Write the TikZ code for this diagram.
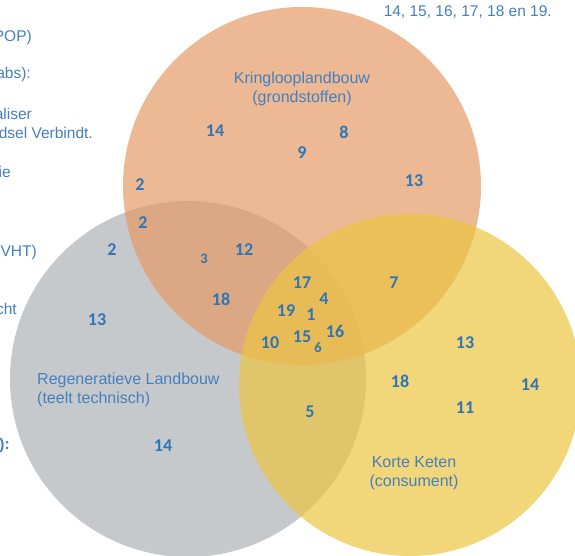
\documentclass[tikz,border=0pt]{standalone}
\usepackage{fontspec}
\setmainfont{Liberation Sans}
\newfontfamily\calfont{Carlito}
\definecolor{txtblue}{RGB}{68,128,190}
\definecolor{numblue}{RGB}{46,117,182}
\definecolor{grondorange}{RGB}{229,154,102}
\definecolor{teeltgray}{RGB}{174,178,182}
\definecolor{ketenyellow}{RGB}{236,196,65}
\tikzset{
  nr/.style={font=\calfont\bfseries\fontsize{18}{18}\selectfont, text=numblue, inner sep=0pt},
  klein/.style={font=\calfont\bfseries\fontsize{14.5}{14.5}\selectfont},
  lbl/.style={font=\fontsize{16}{18.5}\selectfont, text=txtblue, align=center, inner sep=0pt},
  cut/.style={font=\fontsize{15.5}{18}\selectfont, text=txtblue, anchor=east, inner sep=0pt},
  set/.style={fill opacity=0.7}
}

\begin{document}
\begin{tikzpicture}[x=1pt,y=-1pt]
  \useasboundingbox (0,0) rectangle (575,556);
  % the three sets
  \fill[teeltgray,set] (188,379) circle(178pt);
  \fill[grondorange,set] (302,186) circle(179pt);
  \fill[ketenyellow,set] (410,385) circle(171pt);
  % set names
  \draw (302,89) node[lbl] (kring) {Kringlooplandbouw\\(grondstoffen)};
  \draw (37,390) node[lbl,align=left,anchor=west] (rege) {Regeneratieve Landbouw\\(teelt technisch)};
  \draw (414,473) node[lbl] (korte) {Korte Keten\\(consument)};
  % text cut off at the edges
  \draw (32,37) node[cut] (t1) {POP)};
  \draw (31,74) node[cut] (t2) {abs):};
  \draw (32,114) node[cut] (t3) {aliser};
  \draw (93,133) node[cut] (t4) {dsel Verbindt.};
  \draw (11,172) node[cut] (t5) {ie};
  \draw (37,252) node[cut] (t6) {(VHT)};
  \draw (17,309) node[cut] (t7) {cht};
  \draw (10,445) node[cut,font=\fontsize{15.5}{18}\selectfont\bfseries] (t8) {):};
  \draw (552,12) node[cut] (t9) {14, 15, 16, 17, 18 en 19.};
  % kringloop
  \draw (215,131) node[nr] (k14) {14};
  \draw (344,132) node[nr] (k8) {8};
  \draw (302,153) node[nr] (k9) {9};
  \draw (414,181) node[nr] (k13) {13};
  \draw (140,185) node[nr] (k2) {2};
  % kringloop + regeneratief
  \draw (143,223) node[nr] (kr2) {2};
  \draw (204,259) node[nr,klein] (kr3) {3};
  \draw (244,250) node[nr] (kr12) {12};
  \draw (221,299) node[nr] (kr18) {18};
  % regeneratief
  \draw (112,250) node[nr] (r2) {2};
  \draw (97,320) node[nr] (r13) {13};
  \draw (163,446) node[nr] (r14) {14};
  % alle drie
  \draw (302,283) node[nr] (a17) {17};
  \draw (324,299) node[nr] (a4) {4};
  \draw (286,311) node[nr] (a19) {19};
  \draw (311,315) node[nr] (a1) {1};
  \draw (335,331) node[nr] (a16) {16};
  \draw (270,343) node[nr] (a10) {10};
  \draw (302,337) node[nr] (a15) {15};
  \draw (318,348) node[nr,klein] (a6) {6};
  % kringloop + korte keten
  \draw (394,283) node[nr] (kk7) {7};
  % korte keten
  \draw (465,343) node[nr] (c13) {13};
  \draw (400,381) node[nr] (c18) {18};
  \draw (530,385) node[nr] (c14) {14};
  \draw (465,408) node[nr] (c11) {11};
  % regeneratief + korte keten
  \draw (310,412) node[nr] (rk5) {5};
\end{tikzpicture}
\end{document}
